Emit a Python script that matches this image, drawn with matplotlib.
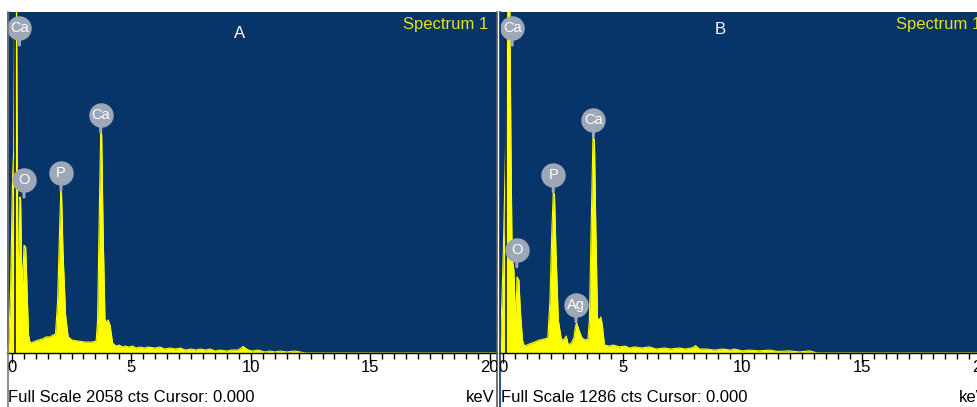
import matplotlib
matplotlib.use("Agg")
import matplotlib.pyplot as plt
from matplotlib.lines import Line2D
from matplotlib.transforms import Bbox, TransformedBbox, offset_copy

plt.rcParams["font.family"] = ["Liberation Sans", "DejaVu Sans"]

W, H = 977, 407

# ---- spectrum A (Full Scale 2058 cts) ----
FULL_SCALE_A = 2058
ENERGY_A = [-0.2, -0.13, -0.05, 0.03, 0.08, 0.12, 0.14, 0.20, 0.23, 0.26, 0.31, 0.34,
            0.37, 0.41, 0.46, 0.51, 0.58, 0.62, 0.70, 0.77, 0.89, 1.10, 1.27, 1.44,
            1.60, 1.73, 1.83, 1.92, 2.00, 2.05, 2.08, 2.14, 2.25, 2.36, 2.52, 2.77,
            3.07, 3.36, 3.53, 3.59, 3.67, 3.72, 3.76, 3.82, 3.90, 3.97, 4.03, 4.11,
            4.22, 4.36, 4.50, 4.62, 4.74, 4.90, 5.05, 5.20, 5.37, 5.55, 5.70, 6.00,
            6.20, 6.40, 6.62, 6.85, 7.05, 7.25, 7.50, 7.70, 7.88, 8.10, 8.30, 8.51,
            8.70, 9.00, 9.20, 9.45, 9.60, 9.68, 9.78, 9.90, 10.06, 10.30, 10.60, 10.80,
            11.00, 11.23, 11.50, 11.85, 12.06, 12.30, 20.3]
COUNTS_A = [0, 60, 380, 1044, 1225, 2100, 2100, 2100, 1225, 550, 620, 940,
            925, 550, 420, 650, 640, 470, 110, 60, 66, 78, 84, 97,
            97, 109, 115, 320, 742, 984, 972, 622, 229, 97, 78, 72,
            66, 66, 72, 200, 923, 1334, 1316, 742, 200, 187, 200, 169,
            60, 42, 48, 36, 42, 36, 42, 30, 36, 30, 36, 30,
            36, 24, 30, 24, 30, 18, 24, 18, 24, 18, 24, 12,
            18, 12, 18, 18, 30, 40, 28, 18, 12, 18, 6, 12,
            6, 12, 6, 12, 6, 0, 0]
LABELS_A = ["Ca", "O", "P", "Ca"]
LABEL_KEV_A = [0.32, 0.51, 2.06, 3.72]
LABEL_CTS_A = [1859, 941, 984, 1334]

# ---- spectrum B (Full Scale 1286 cts) ----
FULL_SCALE_B = 1286
ENERGY_B = [-0.15, -0.11, -0.05, 0.01, 0.10, 0.16, 0.28, 0.33, 0.37, 0.41, 0.45, 0.49,
            0.54, 0.58, 0.66, 0.72, 0.81, 0.89, 1.10, 1.31, 1.52, 1.73, 1.87, 1.96,
            2.04, 2.10, 2.15, 2.21, 2.31, 2.44, 2.56, 2.64, 2.73, 2.86, 2.96, 3.03,
            3.08, 3.17, 3.30, 3.44, 3.55, 3.61, 3.69, 3.76, 3.82, 3.88, 3.95, 4.03,
            4.09, 4.15, 4.24, 4.45, 4.60, 4.87, 5.10, 5.30, 5.49, 5.80, 6.12, 6.40,
            6.75, 7.00, 7.38, 7.60, 7.88, 8.00, 8.05, 8.12, 8.22, 8.50, 8.84, 9.20,
            9.50, 9.68, 10.00, 10.30, 10.70, 11.14, 11.50, 11.98, 12.40, 12.82, 13.15, 20.4]
COUNTS_B = [0, 38, 200, 388, 765, 1310, 1310, 765, 426, 339, 313, 200,
            143, 287, 275, 162, 49, 26, 34, 41, 49, 53, 57, 200,
            464, 607, 596, 388, 124, 49, 53, 64, 30, 38, 57, 102,
            113, 87, 57, 49, 53, 124, 502, 815, 803, 464, 132, 124,
            136, 106, 30, 26, 30, 23, 26, 19, 23, 19, 23, 15,
            19, 15, 19, 15, 19, 24, 28, 22, 15, 15, 11, 15,
            11, 15, 8, 11, 8, 11, 6, 8, 4, 8, 0, 0]
LABELS_B = ["Ca", "O", "P", "Ag", "Ca"]
LABEL_KEV_B = [0.38, 0.57, 2.10, 3.05, 3.78]
LABEL_CTS_B = [1161, 325, 608, 118, 816]

BG = "#07356a"
YELLOW = "#ffff00"
MARKER = "#9ea7b8"


def fig_rect(x, y, w, h):
    return [x / W, (H - y - h) / H, w / W, h / H]


def fig_pt(x, y):
    return x / W, (H - y) / H


fig = plt.figure(figsize=(W / 100, H / 100), dpi=100)


def draw_panel(x0, xlim, energy, counts, full_scale, labels, lab_kev, lab_cts,
               letter, letter_xy, scale_text, border_color):
    ax = fig.add_axes(fig_rect(x0, 12, 490, 341))
    ax.set_facecolor(BG)
    ax.fill_between(energy, counts, 0, color=YELLOW, lw=0, zorder=2)
    ax.plot(energy, counts, color=YELLOW, lw=0.8, zorder=2)
    ax.axvline(0.12, color="#1a1a1a", lw=1.2, zorder=3)
    ax.set_xlim(*xlim)
    ax.set_ylim(0, full_scale)

    for s in ["left", "right", "top"]:
        ax.spines[s].set_visible(False)
    ax.spines["bottom"].set_color("black")
    ax.spines["bottom"].set_linewidth(1)
    ax.set_yticks([])
    ax.set_xticks([0, 5, 10, 15, 20])
    ax.set_xticks([v * 0.5 for v in range(41)], minor=True)
    ax.tick_params(axis="x", which="major", direction="out", length=7, width=1,
                   color="black", labelbottom=False)
    ax.tick_params(axis="x", which="minor", direction="out", length=4, width=1,
                   color="black")

    # element markers
    circ_tr = offset_copy(ax.transData, fig=fig, x=0, y=17, units="dots")
    for el, kx, ky in zip(labels, lab_kev, lab_cts):
        ax.annotate("", xy=(kx, ky), xytext=(0, 17), textcoords="offset pixels",
                    arrowprops=dict(arrowstyle="-", color=MARKER, lw=2.2,
                                    shrinkA=0, shrinkB=0), zorder=4)
        ax.plot([kx], [ky], "o", ms=16.6, color=MARKER, mec=MARKER,
                transform=circ_tr, zorder=5, clip_on=False)
        ax.text(kx, ky, el, transform=circ_tr, color="white", fontsize=10.5,
                ha="center", va="center", zorder=6)

    # panel clip region
    clip = TransformedBbox(Bbox.from_extents(x0 / W, 0, min(x0 + 490, W) / W, 1),
                           fig.transFigure)

    xpix = lambda v: x0 + (v - xlim[0]) / (xlim[1] - xlim[0]) * 490
    for v in [0, 5, 10, 15, 20]:
        t = fig.text(*fig_pt(xpix(v), 368), str(v), ha="center", va="center",
                     fontsize=12, color="black")
        t.set_clip_box(clip)
        t.set_clip_on(True)
    t = fig.text(*fig_pt(x0 + 1, 398), scale_text, ha="left", va="center",
                 fontsize=12, color="black")
    t.set_clip_box(clip)
    t.set_clip_on(True)
    fig.text(*fig_pt(x0 + 488, 398), "keV", ha="right", va="center",
             fontsize=12, color="black")
    fig.text(*fig_pt(x0 + 481, 25), "Spectrum 1", ha="right", va="center",
             fontsize=12, color="#e6e21a")
    fig.text(*fig_pt(*letter_xy), letter, ha="center", va="center",
             fontsize=12, color="white")

    # panel frame
    fig.add_artist(Line2D([x0 / W + 0.5 / W] * 2, [0, (H - 12) / H],
                          color=border_color, lw=1.2))
    return ax


draw_panel(7, (-0.2, 20.3), ENERGY_A, COUNTS_A, FULL_SCALE_A, LABELS_A,
           LABEL_KEV_A, LABEL_CTS_A, "A", (240, 33),
           "Full Scale 2058 cts Cursor: 0.000", "#7a7a7a")
fig.add_artist(Line2D([496.5 / W] * 2, [0, (H - 12) / H], color="#5a5a5a", lw=1.2))

draw_panel(500, (-0.13, 20.37), ENERGY_B, COUNTS_B, FULL_SCALE_B, LABELS_B,
           LABEL_KEV_B, LABEL_CTS_B, "B", (720, 30),
           "Full Scale 1286 cts Cursor: 0.000", BG)

fig.savefig("out.png", dpi=100)
